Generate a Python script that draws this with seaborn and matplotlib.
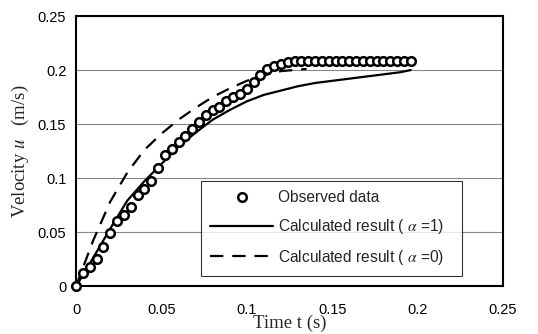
import numpy as np
import pandas as pd
import matplotlib
matplotlib.use("Agg")
import matplotlib.pyplot as plt
import seaborn as sns

# Observed data
obs_t = [0.000, 0.004, 0.008, 0.012, 0.016, 0.020, 0.024, 0.028, 0.032, 0.036,
         0.040, 0.044, 0.048, 0.052, 0.056, 0.060, 0.064, 0.068, 0.072, 0.076,
         0.080, 0.084, 0.088, 0.092, 0.096, 0.100, 0.104, 0.108, 0.112, 0.116,
         0.120, 0.124, 0.128, 0.132, 0.136, 0.140, 0.144, 0.148, 0.152, 0.156,
         0.160, 0.164, 0.168, 0.172, 0.176, 0.180, 0.184, 0.188, 0.192, 0.196]
obs_u = [0.000, 0.012, 0.018, 0.025, 0.036, 0.049, 0.060, 0.066, 0.073, 0.084,
         0.090, 0.097, 0.109, 0.121, 0.127, 0.133, 0.139, 0.145, 0.152, 0.158,
         0.163, 0.166, 0.171, 0.175, 0.178, 0.182, 0.189, 0.195, 0.201, 0.204,
         0.206, 0.207, 0.208, 0.208, 0.208, 0.208, 0.208, 0.208, 0.208, 0.208,
         0.208, 0.208, 0.208, 0.208, 0.208, 0.208, 0.208, 0.208, 0.208, 0.208]

# Calculated result (alpha = 1)
calc1_t = [0.000, 0.005, 0.010, 0.020, 0.030, 0.040, 0.050, 0.060, 0.070, 0.080,
           0.090, 0.100, 0.110, 0.120, 0.130, 0.140, 0.150, 0.160, 0.170, 0.180,
           0.190, 0.196]
calc1_u = [0.000, 0.012, 0.026, 0.053, 0.079, 0.097, 0.113, 0.129, 0.142, 0.154,
           0.163, 0.171, 0.177, 0.181, 0.185, 0.188, 0.190, 0.192, 0.194, 0.196,
           0.198, 0.200]

# Calculated result (alpha = 0)
calc0_t = [0.000, 0.005, 0.010, 0.015, 0.020, 0.030, 0.040, 0.050, 0.060, 0.070,
           0.080, 0.090, 0.100, 0.110, 0.120, 0.135]
calc0_u = [0.000, 0.021, 0.042, 0.060, 0.078, 0.105, 0.126, 0.141, 0.154, 0.165,
           0.175, 0.183, 0.190, 0.195, 0.199, 0.201]

x_ticks = [0, 0.05, 0.1, 0.15, 0.2, 0.25]
y_ticks = [0, 0.05, 0.1, 0.15, 0.2, 0.25]
x_tick_labels = ["0", "0.05", "0.1", "0.15", "0.2", "0.25"]
y_tick_labels = ["0", "0.05", "0.1", "0.15", "0.2", "0.25"]

sns.set_style("white")
plt.rcParams["font.family"] = ["Liberation Sans", "DejaVu Sans"]
plt.rcParams["mathtext.fontset"] = "stix"

fig = plt.figure(figsize=(5.38, 3.34), dpi=100)
ax = fig.add_axes([0.1413, 0.1437, 0.7937, 0.8083])

df1 = pd.DataFrame({"t": calc1_t, "u": calc1_u})
df0 = pd.DataFrame({"t": calc0_t, "u": calc0_u})

lab_obs = "Observed data"
lab_1 = "Calculated result ( $\\alpha$ =1)"
lab_0 = "Calculated result ( $\\alpha$ =0)"

sns.lineplot(data=df1, x="t", y="u", ax=ax, color="black", linewidth=1.6,
             label=lab_1, zorder=3, sort=False)
sns.lineplot(data=df0, x="t", y="u", ax=ax, color="black", linewidth=1.6,
             linestyle=(0, (6, 4)), label=lab_0, zorder=3, sort=False)
ax.plot(obs_t, obs_u, linestyle="none", marker="o", markersize=6.2,
        markerfacecolor="white", markeredgecolor="black", markeredgewidth=1.8,
        label=lab_obs, zorder=4, clip_on=False)

ax.set_xlim(0, 0.25)
ax.set_ylim(0, 0.25)
ax.set_xticks(x_ticks)
ax.set_xticklabels(x_tick_labels)
ax.set_yticks(y_ticks)
ax.set_yticklabels(y_tick_labels)
ax.tick_params(axis="both", direction="in", length=3, width=0.8, colors="black",
               labelsize=10.5)
ax.tick_params(axis="x", pad=12.5)
ax.tick_params(axis="y", pad=7)
ax.yaxis.grid(True, color="#888888", linewidth=0.8)
ax.xaxis.grid(False)
ax.set_axisbelow(True)
for s in ax.spines.values():
    s.set_color("black")
    s.set_linewidth(1.5)

ax.set_xlabel("Time t (s)", family="Liberation Serif", fontsize=13.5, labelpad=-2)
ax.set_ylabel("Velocity $u$   (m/s)", family="Liberation Serif", fontsize=13.5,
              labelpad=5)

handles, labels = ax.get_legend_handles_labels()
order = [labels.index(lab_obs), labels.index(lab_1), labels.index(lab_0)]
leg = ax.legend([handles[i] for i in order], [labels[i] for i in order],
                loc="lower left", bbox_to_anchor=(0.293, 0.037, 0.611, 0.344),
                mode="expand", borderaxespad=0, frameon=True, fancybox=False,
                edgecolor="black", handlelength=4.0, fontsize=11.2,
                borderpad=0.6, labelspacing=0.75, handletextpad=0.35)
leg.get_frame().set_linewidth(0.8)

fig.savefig("out.png", dpi=100)
